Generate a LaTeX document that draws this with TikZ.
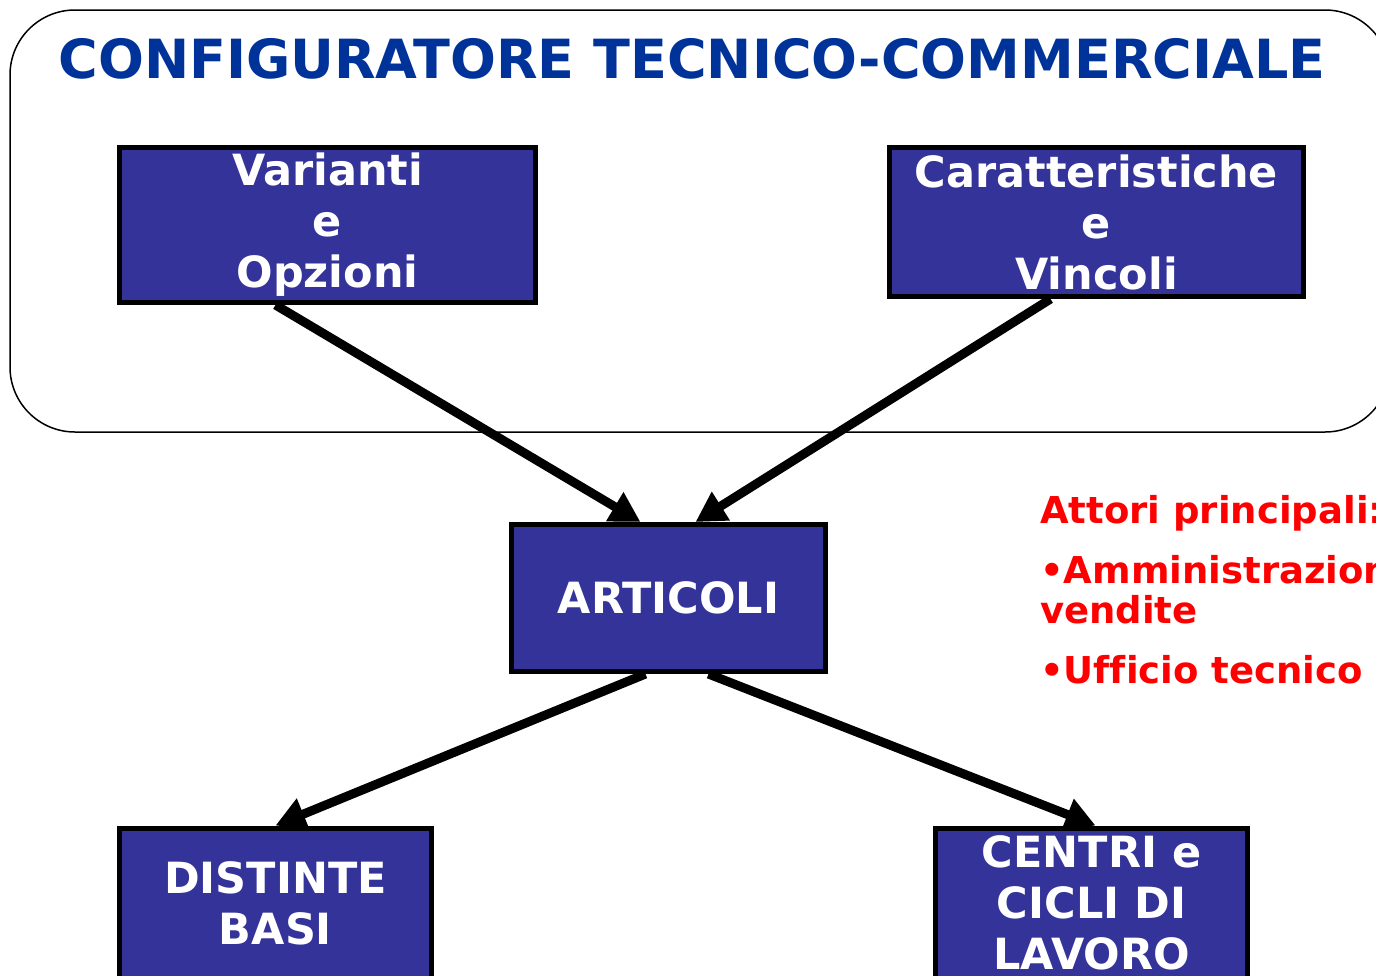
\documentclass[tikz,border=0pt]{standalone}
\usepackage{fontspec}
\setmainfont{DejaVu Sans}[Ligatures=NoCommon]
\usetikzlibrary{arrows.meta}
\definecolor{boxblue}{HTML}{333399}
\definecolor{titleblue}{HTML}{003399}
\definecolor{attorired}{HTML}{FF0000}

\begin{document}
\begin{tikzpicture}[x=1pt, y=-1pt,
    box/.style={rectangle, draw=black, line width=5pt, fill=boxblue, text=white, font=\fontsize{43}{51}\selectfont\bfseries, align=center, inner sep=0pt},
    link/.style={line width=9pt, -{Triangle[length=30pt,width=32pt]}}]

    \useasboundingbox (0,0) rectangle (1376,975);

    % Configurator frame
    \draw[line width=1.5pt, rounded corners=65pt] (10,10) rectangle (1390,432);
    \node[anchor=base, text=titleblue, font=\fontsize{54}{60}\selectfont\bfseries] (title) at (692,78) {CONFIGURATORE TECNICO-COMMERCIALE};

    % Top row
    \node[box, minimum width=416pt, minimum height=155pt] (varianti) at (327.5,225) {Varianti\\e\\Opzioni};
    \node[box, minimum width=414pt, minimum height=149pt] (caratt) at (1096.5,222) {Caratteristiche\\e\\Vincoli};

    % Middle
    \node[box, minimum width=314pt, minimum height=147pt] (articoli) at (668.5,598) {ARTICOLI};
    \node[anchor=north west, inner sep=0pt, align=left, text=attorired, font=\fontsize{37}{40}\selectfont\bfseries] (attori) at (1040,495) {Attori principali:\\[20pt]•Amministrazione\\vendite\\[20pt]•Ufficio tecnico};

    % Bottom row
    \node[box, minimum width=312pt, minimum height=150pt] (distinte) at (275.5,903) {DISTINTE\\BASI};
    \node[box, minimum width=312pt, minimum height=150pt] (centri) at (1091.5,903) {CENTRI e\\CICLI DI\\LAVORO};

    % Arrows
    \draw[link] ([xshift=-52pt]varianti.south) -- ([xshift=-28pt]articoli.north);
    \draw[link] ([xshift=-46pt]caratt.south) -- ([xshift=27pt]articoli.north);
    \draw[link] ([xshift=-23pt]articoli.south) -- (distinte.north);
    \draw[link] ([xshift=40pt]articoli.south) -- ([xshift=4pt]centri.north);

\end{tikzpicture}
\end{document}
